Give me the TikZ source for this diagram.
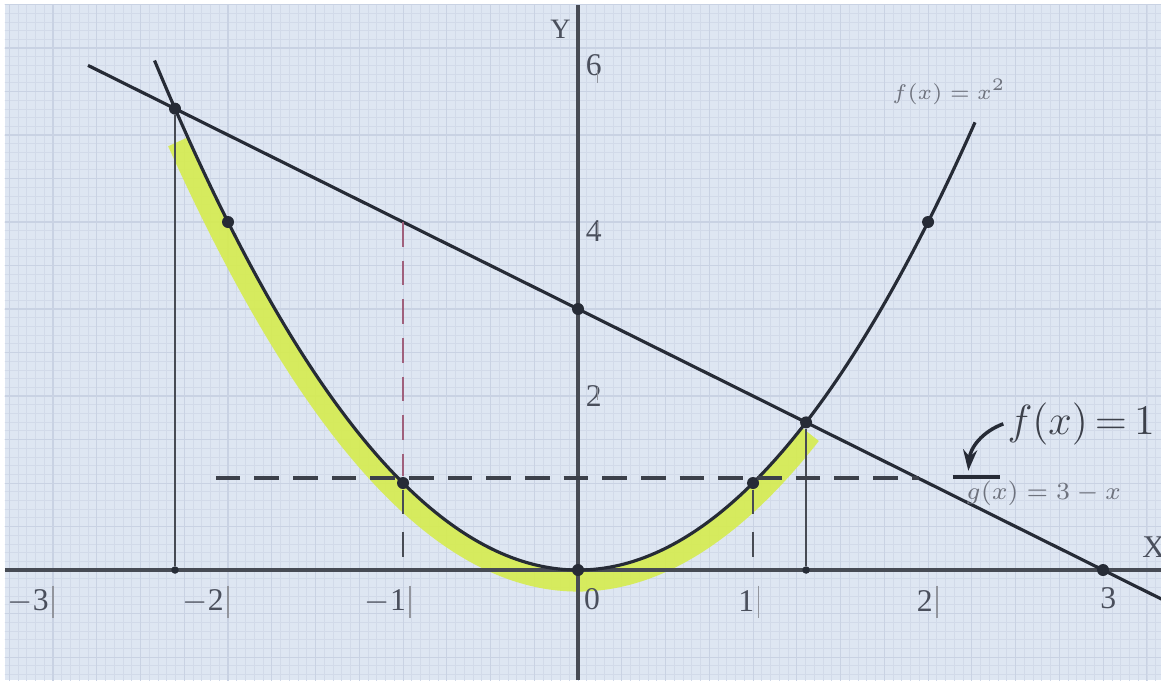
\documentclass[tikz,border=0pt]{standalone}
\usepackage{fontspec}
\setmainfont{Liberation Serif}
\usetikzlibrary{arrows.meta}
\definecolor{paper}{HTML}{DEE6F2}
\definecolor{gridc}{HTML}{D2DAE9}
\definecolor{gridm}{HTML}{C9D2E3}
\definecolor{ink}{HTML}{262B36}
\definecolor{txt}{HTML}{4A4F5C}
\definecolor{hilite}{HTML}{D6EC4E}
\definecolor{pinkdash}{HTML}{A0607C}
\tikzset{
  curve/.style={draw=ink, line width=0.9pt},
  axisline/.style={draw=ink!85, line width=1.1pt},
  dot/.style={circle, fill=ink, inner sep=0pt, minimum size=0.12cm},
  smalldot/.style={circle, fill=ink, inner sep=0pt, minimum size=0.075cm},
  ticklab/.style={text=txt, font=\fontsize{9}{11}\selectfont, inner sep=1pt},
  smalllab/.style={text=txt!80, font=\itshape\fontsize{6.5}{8}\selectfont, inner sep=1pt},
  dashline/.style={draw=ink!90, line width=1pt, dash pattern=on 7pt off 4pt},
  tickmark/.style={draw=txt!60, line width=0.4pt}
}
\begin{document}
\begin{tikzpicture}[x=1.75cm, y=0.87cm]
\useasboundingbox (-3.303,-1.264) rectangle (3.331,6.552);
\fill[white] (-3.303,-1.264) rectangle (3.331,6.552);
\fill[paper] (-3.275,-1.264) rectangle (3.331,6.495);
% graph paper grid
\begin{scope}
\clip (-3.275,-1.264) rectangle (3.331,6.495);
\draw[gridc, line width=0.2pt, step={(0.05,0.1)}] (-3.3,-1.3) grid (3.35,6.5);
\draw[gridm, line width=0.3pt, step={(0.25,0.5)}] (-3.3,-1.3) grid (3.35,6.5);
\end{scope}
% highlight band, offset outward from the parabola
\draw[hilite, opacity=0.9, line width=6pt]
  plot[domain=-2.23:1.28, samples=90, smooth]
  ({\x + 0.11*1.74*\x/(1.75*sqrt(3.0625+3.0276*\x*\x))},
   {\x*\x - 0.11*1.75/(0.87*sqrt(3.0625+3.0276*\x*\x))});
% axes
\coordinate (xl) at (-3.275,0);
\coordinate (xr) at (3.331,0);
\coordinate (yt) at (0,6.495);
\coordinate (yb) at (0,-1.264);
\draw[axisline] (xl) -- (xr);
\draw[axisline] (yb) -- (yt);
\node[text=txt, font=\fontsize{9}{10}\selectfont] (xlab) at (3.29,0.26) {X};
\node[text=txt, font=\fontsize{8}{10}\selectfont] (ylab) at (-0.10,6.22) {Y};
% tick labels
\foreach \v/\lab/\xx in {-3/$-$3/-3, -2/$-$2/-2, -1/$-$1/-0.96, 1/1/1.03, 2/2/2.05}{
  \node[ticklab, anchor=east] (t\v) at (\xx,-0.36) {\lab};
  \draw[tickmark] (\xx,-0.18) -- (\xx,-0.55);
}
\node[ticklab] (t0) at (0.08,-0.34) {0};
\node[ticklab] (t3) at (3.03,-0.32) {3};
\node[ticklab, anchor=west] (y6) at (0.02,5.8) {6};
\node[ticklab, anchor=west] (y4) at (0.02,3.9) {4};
\node[ticklab, anchor=west] (y2) at (0.02,2.0) {2};
\draw[tickmark] (0.11,5.6) -- (0.11,5.75);
\draw[tickmark] (0.11,3.85) -- (0.11,4.0);
\draw[tickmark] (0.11,1.95) -- (0.11,2.1);
% curves
\draw[curve] plot[domain=-2.42:2.27, samples=120, smooth] (\x,{\x*\x});
\coordinate (gl) at (-2.8,5.8);
\coordinate (gr) at (3.35,-0.35);
\draw[curve] (gl) -- (gr);
% points
\node[dot] (P1) at (-2.303,5.303) {};
\node[dot] (P2) at (-2,4) {};
\node[dot] (P3) at (-1,1) {};
\node[dot] (P4) at (0,0) {};
\node[dot] (P5) at (1,1) {};
\node[dot] (P6) at (1.303,1.697) {};
\node[dot] (P7) at (2,4) {};
\node[dot] (P8) at (0,3) {};
\node[dot] (P9) at (3,0) {};
\node[smalldot] (Q1) at (-2.303,0) {};
\node[smalldot] (Q2) at (1.303,0) {};
\coordinate (R1) at (-1,4);
\coordinate (R0) at (-1,0);
\coordinate (S0) at (1,0);
% verticals
\draw[draw=ink!85, line width=0.6pt] (P1) -- (Q1);
\draw[draw=ink!85, line width=0.6pt] (P6) -- (Q2);
\draw[draw=pinkdash, line width=0.8pt, dash pattern=on 7pt off 4pt] (R1) -- (P3);
\draw[draw=ink!85, line width=0.8pt, dash pattern=on 7pt off 5pt] (P3) -- (R0);
\draw[draw=ink!85, line width=0.8pt, dash pattern=on 7pt off 5pt] (P5) -- (S0);
% horizontal dashed y = 1
\coordinate (H0) at (-2.07,1.06);
\coordinate (H1) at (1.95,1.06);
\draw[dashline] (H0) -- (H1);
\coordinate (U0) at (2.14,1.07);
\coordinate (U1) at (2.41,1.07);
\draw[draw=ink, line width=0.9pt] (U0) -- (U1);
% labels
\node[smalllab] (flab) at (2.12,5.49) {$f(x)=x^2$};
\node[smalllab, font=\itshape\fontsize{7.5}{9}\selectfont] (glab) at (2.66,0.88) {$g(x)=3-x$};
\node[text=ink!90, font=\fontsize{12}{14}\selectfont, anchor=west, inner sep=1pt] (hlab) at (2.43,1.68) {$f(x)\,{=}\,1$};
\coordinate (arrEnd) at (2.23,1.14);
\draw[draw=ink, line width=1pt, -{Stealth[length=6pt,width=4pt]}] (hlab.west) to[out=200, in=85] (arrEnd);
\end{tikzpicture}
\end{document}
